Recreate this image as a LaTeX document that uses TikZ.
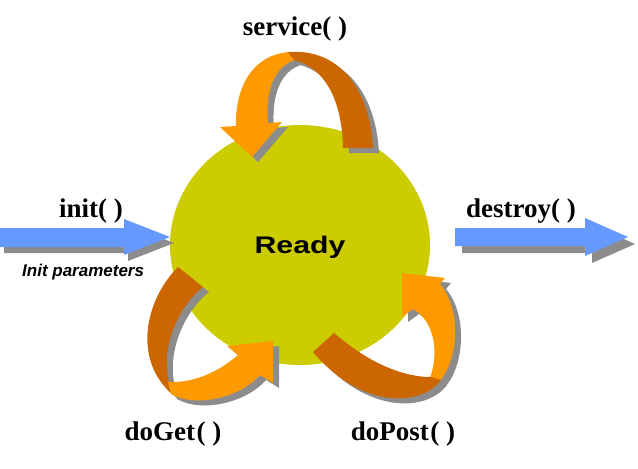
\documentclass[tikz,border=0pt]{standalone}
\usepackage{fontspec}
\usepackage{graphicx}
\setmainfont{Liberation Serif}
\setsansfont{Liberation Sans}
\usetikzlibrary{shapes.geometric}
\definecolor{ygreen}{HTML}{CCCC00}
\definecolor{orangeL}{HTML}{FF9900}
\definecolor{orangeD}{HTML}{CC6600}
\definecolor{shadowgrey}{HTML}{8C8C8C}
\definecolor{arrowblue}{HTML}{6699FF}
\tikzset{
  lbl/.style={font=\fontsize{27}{30}\selectfont\bfseries, inner sep=0pt, anchor=base},
  sublbl/.style={font=\fontsize{17}{20}\selectfont\sffamily\bfseries\itshape, inner sep=0pt, anchor=base west},
  readylbl/.style={font=\fontsize{24}{28}\selectfont\sffamily\bfseries, inner sep=0pt, anchor=base},
  blob/.style={ellipse, fill=ygreen, minimum width=260pt, minimum height=240pt, inner sep=0pt}
}
\begin{document}
\begin{tikzpicture}[x=1pt,y=-1pt]
\useasboundingbox[fill=white] (0,0) rectangle (638,469);
% circle
\node[blob] (ready) at (300,245) {};
\node[readylbl] (readytxt) at (300,253) {\scalebox{1.26}[1]{Ready}};
% blue arrows (shadow then colour)
\foreach \dx/\dy/\col in {4/6/shadowgrey, 0/0/arrowblue}{
  \fill[\col, shift={(\dx,\dy)}] (0,228) -- (124,228) -- (124,219) -- (170,237) -- (124,255) -- (124,247) -- (0,247) -- cycle;
}
\foreach \dx/\dy/\col in {7/7/shadowgrey, 0/0/arrowblue}{
  \fill[\col, shift={(\dx,\dy)}] (455,228) -- (585,228) -- (585,218) -- (628,237) -- (585,256) -- (585,246) -- (455,246) -- cycle;
}
% ribbons: shadow then colour
\foreach \dx/\dy/\ca/\cb in {6/5/shadowgrey/shadowgrey, 0/0/orangeL/orangeD}{
 \begin{scope}[shift={(\dx,\dy)}]
  % service (top)
  \fill[\ca] (220,127) -- (252,157) -- (282,122) -- (268,123)
     .. controls (265,90) and (275,66) .. (295,60)
     -- (289,52)
     .. controls (252,55) and (235,88) .. (236,126) -- cycle;
  \fill[\cb] (288,52) .. controls (340,48) and (370,90) .. (373,148)
     -- (343,148)
     .. controls (342,100) and (325,68) .. (294,60) -- cycle;
  % doGet (bottom left)
  \fill[\cb] (178,267) .. controls (145,300) and (132,360) .. (173,395)
     -- (169,382)
     .. controls (160,345) and (180,305) .. (203,287) -- cycle;
  \fill[\ca] (171,394) .. controls (195,408) and (240,398) .. (260,375)
     -- (273,383) -- (273,341) -- (227,346) -- (238,355)
     .. controls (215,375) and (190,383) .. (168,382) -- cycle;
  % doPost (bottom right)
  \fill[\ca] (402,273) -- (445,278) -- (440,284)
     .. controls (462,310) and (458,360) .. (440,381)
     -- (430,378)
     .. controls (440,350) and (433,320) .. (413,309)
     -- (402,317) -- cycle;
  \fill[\cb] (313,352) -- (334,333)
     .. controls (365,360) and (400,377) .. (431,377)
     -- (441,380)
     .. controls (420,408) and (360,408) .. (313,352) -- cycle;
 \end{scope}
}
% labels
\node[lbl] (service) at (295,35) {service( )};
\node[lbl] (init) at (91,217) {init( )};
\node[sublbl] (params) at (22,276) {Init parameters};
\node[lbl] (destroy) at (521,217) {destroy( )};
\node[lbl] (doget) at (173,440) {doGet\kern1.5pt( )};
\node[lbl] (dopost) at (403,440) {doPost\kern1.5pt( )};
\end{tikzpicture}
\end{document}
